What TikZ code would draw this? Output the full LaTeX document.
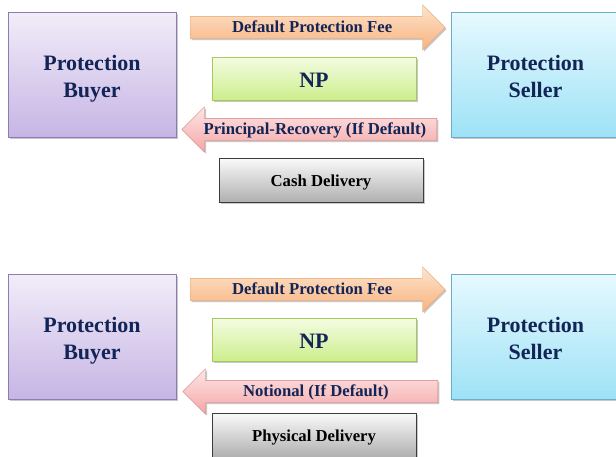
\documentclass[tikz,border=0pt]{standalone}
\usepackage{fontspec}
\setmainfont{Liberation Serif}
\usepackage{tikz}
\usetikzlibrary{shapes.arrows,shadows}
\definecolor{navy}{RGB}{19,36,87}
\definecolor{buyertop}{RGB}{242,237,249}
\definecolor{buyerbot}{RGB}{198,181,228}
\definecolor{buyerline}{RGB}{140,124,178}
\definecolor{sellertop}{RGB}{230,249,254}
\definecolor{sellerbot}{RGB}{158,226,246}
\definecolor{sellerline}{RGB}{108,172,200}
\definecolor{feetop}{RGB}{253,228,205}
\definecolor{feebot}{RGB}{248,178,126}
\definecolor{feeline}{RGB}{232,160,102}
\definecolor{nptop}{RGB}{244,252,226}
\definecolor{npbot}{RGB}{204,238,140}
\definecolor{npline}{RGB}{165,201,92}
\definecolor{backtop}{RGB}{253,230,230}
\definecolor{backbot}{RGB}{245,166,166}
\definecolor{backline}{RGB}{214,124,124}
\definecolor{dlvtop}{RGB}{250,250,250}
\definecolor{dlvbot}{RGB}{176,176,176}
\definecolor{dlvline}{RGB}{60,60,60}
\newcommand{\bigfont}{\fontsize{22}{27}\selectfont\bfseries}
\newcommand{\smallfont}{\fontsize{16.7}{18}\selectfont\bfseries}

\tikzset{
    softshadow/.style={drop shadow={shadow xshift=1.5pt, shadow yshift=-1.5pt, opacity=0.3, fill=black!70}},
    party/.style={rectangle, minimum width=168pt, minimum height=125pt, align=center, text height=47pt, text depth=2pt, text=navy, font=\bigfont, softshadow},
    buyerbox/.style={party, draw=buyerline, top color=buyertop, bottom color=buyerbot},
    sellerbox/.style={party, draw=sellerline, top color=sellertop, bottom color=sellerbot},
    npbox/.style={rectangle, minimum width=204pt, minimum height=43pt, text height=17pt, text depth=0pt, text=navy, font=\bigfont, draw=npline, top color=nptop, bottom color=npbot, softshadow},
    dlvbox/.style={rectangle, minimum width=204pt, minimum height=44pt, text height=14pt, text depth=2pt, text=black, font=\smallfont, draw=dlvline, top color=dlvtop, bottom color=dlvbot, softshadow},
    flow/.style={single arrow, single arrow head extend=11.5pt, minimum height=255pt, text height=13.3pt, text depth=2.7pt, inner ysep=3pt, inner xsep=2pt, anchor=tail, text=navy, font=\smallfont, softshadow},
    feearrow/.style={flow, draw=feeline, top color=feetop, bottom color=feebot},
    backarrow/.style={flow, shape border rotate=180, draw=backline, top color=backtop, bottom color=backbot}
}

\begin{document}
\begin{tikzpicture}[x=1pt,y=-1pt]
    \useasboundingbox (0,0) rectangle (616,456);
    \fill[white] (0,0) rectangle (616,456);
    %Cash settlement:
    \begin{scope}
        \node[buyerbox] (buyer1) at (92,74.5) {Protection\\Buyer};
        \node[sellerbox] (seller1) at (535.5,74.5) {Protection\\Seller};
        \node[feearrow] (fee1) at (190,27.5) {Default Protection Fee};
        \node[npbox] (np1) at (314,78.5) {NP};
        \node[backarrow] (back1) at (437,129.5) {Principal-Recovery (If Default)};
        \node[dlvbox] (dlv1) at (321,180) {Cash Delivery};
    \end{scope}
    %Physical settlement:
    \begin{scope}
        \node[buyerbox] (buyer2) at (92,336.5) {Protection\\Buyer};
        \node[sellerbox] (seller2) at (535.5,336.5) {Protection\\Seller};
        \node[feearrow] (fee2) at (190,289.5) {Default Protection Fee};
        \node[npbox] (np2) at (314,340) {NP};
        \node[backarrow] (back2) at (438,391.5) {Notional (If Default)};
        \node[dlvbox] (dlv2) at (314,435) {Physical Delivery};
    \end{scope}
\end{tikzpicture}
\end{document}
